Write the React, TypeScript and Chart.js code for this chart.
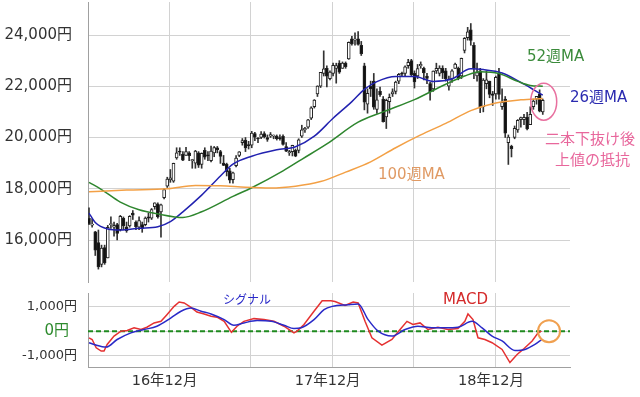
import React, { useEffect, useRef } from "react";
import { Chart, registerables } from "chart.js";

Chart.register(...registerables);

const FONT = "'DejaVu Sans','Noto Sans CJK JP',sans-serif";

// Weekly candles: week 0 = 2016-05-30 ... week 145 = 2019-03-11
const opens = [
  16850, 16580, 16320, 15900, 15050, 15700, 15300, 16600, 16500, 16600,
  16400, 16850, 16500, 16550, 17050, 16700, 16500, 16600, 16600, 16900,
  16850, 17300, 17400, 17100, 17650, 18100, 18350, 18300, 19200, 19450,
  19350, 19300, 19400, 19100, 19000, 19400, 18950, 19500, 19300, 19100,
  19400, 19600, 19450, 19000, 18950, 18700, 18350, 18900, 19300, 19800,
  19900, 19700, 19700, 20150, 19950, 20000, 20150, 20000, 20050, 20050,
  20050, 20000, 20050, 19650, 19400, 19450, 19500, 19500, 20050, 20300,
  20400, 20750, 21200, 21700, 22000, 22500, 22700, 22300, 22500, 22700,
  22900, 22700, 22900, 23070, 23850, 23800, 23850, 23600, 22800, 21300,
  22000, 22200, 21100, 21800, 21500, 20800, 21400, 21700, 21800, 22200,
  22500, 22500, 22800, 23000, 22500, 22400, 22800, 22700, 22400, 22100,
  21900, 22600, 22500, 22700, 22600, 22000, 22300, 22700, 22700, 22400,
  23400, 23900, 24200, 23600, 22400, 22600, 21200, 22100, 22200, 21700,
  21700, 22500, 21200, 21500, 19800, 19655, 20000, 20300, 20700, 20700,
  20800, 20500, 21200, 21500, 21700, 21000,
];
const highs = [
  17251, 16830, 16340, 16390, 15800, 15800, 16570, 16900, 16700, 16650,
  16960, 16900, 16700, 16950, 17150, 16750, 16900, 16700, 16900, 17050,
  17230, 17450, 17450, 17400, 18000, 18450, 18750, 19000, 19600, 19600,
  19450, 19615, 19450, 19150, 19500, 19450, 19400, 19600, 19450, 19670,
  19650, 19650, 19500, 19300, 19000, 18800, 18650, 19290, 19450, 19960,
  20000, 19850, 20240, 20200, 20000, 20230, 20225, 20100, 20195, 20100,
  20100, 20100, 20100, 19800, 19500, 19700, 19550, 19950, 20480, 20400,
  20710, 21200, 21480, 22020, 22540, 23382, 22800, 22600, 22900, 22900,
  23000, 22950, 22950, 23730, 23950, 24084, 24129, 23750, 22900, 21900,
  22200, 22500, 21900, 21970, 21600, 21500, 21700, 21900, 22200, 22500,
  22550, 22800, 23050, 23050, 22600, 22850, 22950, 22750, 22500, 22150,
  22600, 22900, 22800, 22800, 22700, 22400, 22650, 22900, 22750, 23100,
  23900, 24300, 24448, 23700, 22900, 22700, 22300, 22600, 22200, 21800,
  22400, 22700, 21900, 21600, 20100, 19700, 20450, 20700, 20800, 20900,
  20980, 21200, 21500, 21600, 21860, 21500,
];
const lows = [
  16600, 16500, 15395, 14864, 14950, 15050, 15300, 16450, 16150, 16000,
  16350, 16400, 16300, 16500, 16800, 16400, 16400, 16300, 16550, 16700,
  16800, 17200, 16850, 16111, 17600, 18050, 18250, 18250, 19150, 19300,
  19100, 19300, 19100, 18800, 18800, 18830, 18800, 19150, 19100, 19050,
  19250, 19400, 18990, 18900, 18500, 18225, 18220, 18850, 19250, 19700,
  19450, 19550, 19600, 19880, 19800, 19950, 19980, 19850, 20000, 19950,
  19900, 19900, 19700, 19450, 19300, 19280, 19250, 19400, 20000, 20200,
  20350, 20700, 21150, 21600, 21950, 22400, 21972, 22250, 22400, 22120,
  22500, 22700, 22700, 23050, 23600, 23600, 23600, 23200, 21078, 20950,
  21600, 21100, 20937, 21600, 20600, 20350, 20950, 21600, 21700, 22100,
  22400, 22400, 22700, 22400, 21930, 22300, 22700, 22250, 22100, 21460,
  21800, 22500, 22400, 22300, 22200, 21850, 22150, 22700, 22250, 22300,
  23300, 23800, 23600, 22300, 22200, 20971, 21000, 21900, 21550, 21250,
  21500, 21500, 21100, 20000, 18948, 19241, 19950, 20200, 20400, 20500,
  20300, 20500, 21100, 21300, 21000, 20900,
];
const closes = [
  16642, 16601, 15599, 14952, 15682, 15106, 16497, 16627, 16569, 16254,
  16919, 16545, 16360, 16926, 16965, 16519, 16754, 16449, 16860, 16856,
  17184, 17446, 16905, 17374, 17967, 18381, 18426, 18996, 19401, 19427,
  19114, 19454, 19287, 19137, 19467, 18918, 19378, 19234, 19283, 19469,
  19604, 19521, 19262, 18909, 18665, 18335, 18620, 19196, 19445, 19883,
  19590, 19686, 20177, 20013, 19943, 20132, 20033, 19929, 20118, 20099,
  19959, 19952, 19729, 19470, 19452, 19691, 19274, 19909, 20296, 20356,
  20691, 21155, 21457, 22008, 22539, 22681, 22397, 22551, 22819, 22811,
  22553, 22902, 22764, 23714, 23653, 23808, 23631, 23274, 21382, 21720,
  21892, 21181, 21469, 21676, 20617, 21454, 21568, 21778, 22162, 22467,
  22472, 22758, 22930, 22450, 22171, 22694, 22851, 22516, 22304, 21788,
  22597, 22697, 22712, 22525, 22298, 22270, 22601, 22865, 22307, 23094,
  23870, 24120, 23784, 22694, 22532, 21184, 22243, 22250, 21680, 21646,
  22351, 21679, 21375, 20166, 20015, 19561, 20359, 20666, 20773, 20788,
  20333, 20900, 21425, 21602, 21025, 21450,
];

// Moving averages (week index, value)
const ma26Weeks = [0, 2, 6, 10, 16, 22, 26, 30, 36, 42, 46, 52, 60, 66, 72, 78, 84, 88, 92, 98, 104, 110, 116, 122, 126, 132, 138, 142, 145];
const ma26Values = [17050, 16680, 16430, 16390, 16460, 16520, 16720, 17100, 17750, 18500, 18960, 19270, 19520, 19640, 20050, 20750, 21400, 21880, 22180, 22380, 22380, 22190, 22290, 22680, 22650, 22520, 22150, 21870, 21650];
const ma52Weeks = [0, 4, 10, 16, 22, 30, 36, 46, 52, 62, 68, 76, 86, 94, 104, 114, 120, 125, 131, 137, 141, 145];
const ma52Values = [18250, 17970, 17480, 17180, 17020, 16880, 17100, 17700, 18040, 18700, 19150, 19750, 20600, 21000, 21480, 22080, 22400, 22570, 22500, 22190, 22030, 22000];
const ma100Weeks = [0, 12, 25, 34, 42, 50, 58, 66, 74, 82, 90, 98, 106, 114, 122, 130, 138, 145];
const ma100Values = [17880, 17950, 18000, 18130, 18120, 18060, 18030, 18100, 18280, 18650, 19050, 19600, 20100, 20550, 21050, 21350, 21470, 21520];

// MACD panel
const macdWeeks = [0, 1, 2.3, 3.9, 4.8, 5.8, 8, 10.2, 12.2, 14.4, 16.6, 18.5, 20.8, 23, 24.9, 27.2, 28.8, 30.4, 32.6, 34.5, 36.8, 39, 40.9, 43.2, 45.5, 47.3, 49.5, 52.7, 55.9, 59.1, 62.3, 65.5, 66.5, 68.7, 71.9, 74.5, 77.3, 78.6, 81.8, 84.4, 86, 88.2, 90.4, 93.6, 96.8, 99.4, 101.6, 103.5, 105.8, 108.3, 111.5, 114.7, 117.9, 120.1, 121.1, 122.7, 124.3, 126.5, 128.8, 132, 134.5, 136.8, 138.7, 141.6, 143.5, 144.6];
const macdValues = [-270, -340, -680, -810, -810, -540, -200, 0, 25, 135, 65, 160, 335, 400, 670, 1010, 1190, 1150, 970, 780, 700, 610, 570, 400, -50, 200, 400, 510, 470, 400, 200, -70, 0, 270, 810, 1240, 1240, 1210, 1050, 1190, 1150, 400, -270, -570, -340, 65, 400, 270, 335, 65, 160, 65, 105, 400, 700, 470, -270, -340, -470, -745, -1280, -950, -745, -400, -70, 0];
const signalWeeks = [0, 1.6, 5.5, 9, 13.4, 17.6, 21.7, 26.2, 29.4, 32.6, 35.8, 39, 43.2, 46.3, 49.5, 53.7, 58.2, 62.3, 65.5, 67.8, 71.9, 75.1, 77.7, 82.8, 86, 89.2, 92.4, 96.8, 101, 105.1, 109.6, 113.8, 117.9, 122.4, 125.6, 128.8, 132, 136.1, 139.3, 142.5, 144.7];
const signalValues = [-470, -540, -650, -340, -70, 65, 200, 540, 810, 940, 810, 700, 470, 240, 335, 430, 400, 240, 105, 135, 470, 875, 1010, 1080, 1110, 470, 0, -200, 65, 200, 135, 135, 160, 400, 135, -200, -400, -785, -745, -540, -340];

const priceTicks = [16000, 18000, 20000, 22000, 24000];
const macdTicks = [-1000, 0, 1000];
const gridWeeks = [25.6, 51.7, 77.7, 103.8, 129.9];
const xTickLabels = ["16年12月", "", "17年12月", "", "18年12月"];

const GRID = "#d2d2d2";
const AXIS = "#a0a0a0";
const X_MIN = -0.32;
const X_MAX = 153.7;

const pts = (xs: number[], ys: number[]) => xs.map((x, i) => ({ x, y: ys[i] }));
const yen = (v: number) => Number(v).toLocaleString("en-US") + "円";

const noPad = (s: any) => {
  s.paddingTop = 0;
  s.paddingBottom = 0;
  s.paddingLeft = 0;
  s.paddingRight = 0;
};

const mainAnno = {
  id: "mainAnno",
  afterDatasetsDraw(chart: any) {
    const { ctx } = chart;
    const xs = chart.scales.x;
    const ys = chart.scales.y;
    ctx.save();
    ctx.textBaseline = "middle";
    ctx.textAlign = "left";
    ctx.font = `15px ${FONT}`;
    ctx.fillStyle = "#3b8b3b";
    ctx.fillText("52週MA", 527, 57);
    ctx.fillStyle = "#2b2bb0";
    ctx.fillText("26週MA", 570, 98);
    ctx.fillStyle = "#e09a64";
    ctx.fillText("100週MA", 378, 175);
    ctx.fillStyle = "#e8679c";
    ctx.fillText("二本下抜け後", 545, 140);
    ctx.fillText("上値の抵抗", 555, 161);
    ctx.strokeStyle = "#e8709f";
    ctx.lineWidth = 1.5;
    ctx.beginPath();
    ctx.ellipse(xs.getPixelForValue(145.3), ys.getPixelForValue(21400), 13, 18.5, 0, 0, Math.PI * 2);
    ctx.stroke();
    ctx.restore();
  },
};

const macdAnno = {
  id: "macdAnno",
  beforeDatasetsDraw(chart: any) {
    const { ctx, chartArea } = chart;
    const ys = chart.scales.y;
    const y0 = ys.getPixelForValue(0);
    ctx.save();
    ctx.strokeStyle = "#1f8a1f";
    ctx.lineWidth = 2;
    ctx.setLineDash([5, 3]);
    ctx.beginPath();
    ctx.moveTo(chartArea.left, y0);
    ctx.lineTo(chartArea.right, y0);
    ctx.stroke();
    ctx.restore();
  },
  afterDatasetsDraw(chart: any) {
    const { ctx } = chart;
    const xs = chart.scales.x;
    const ys = chart.scales.y;
    const y0 = ys.getPixelForValue(0);
    ctx.save();
    ctx.textBaseline = "middle";
    ctx.font = `15px ${FONT}`;
    ctx.textAlign = "right";
    ctx.fillStyle = "#2e8b2e";
    ctx.fillText("0円", 69, y0);
    ctx.textAlign = "left";
    ctx.fillStyle = "#d42a2a";
    ctx.fillText("MACD", 443, 15);
    ctx.font = `12px ${FONT}`;
    ctx.fillStyle = "#2a2ac8";
    ctx.fillText("シグナル", 223, 16);
    ctx.strokeStyle = "#f0a050";
    ctx.lineWidth = 2;
    ctx.beginPath();
    ctx.arc(xs.getPixelForValue(147), y0, 11, 0, Math.PI * 2);
    ctx.stroke();
    ctx.restore();
  },
};

export default function App() {
  const mainRef = useRef<HTMLCanvasElement>(null);
  const macdRef = useRef<HTMLCanvasElement>(null);

  useEffect(() => {
    const idx = closes.map((_, i) => i);
    const wickData = idx.map((i) => ({ x: i, y: [lows[i], highs[i]] }));
    const bodyData = idx.map((i) => ({ x: i, y: [opens[i], closes[i]] }));
    const bodyColors = idx.map((i) => (closes[i] >= opens[i] ? "#ffffff" : "#111111"));

    const main = new Chart(mainRef.current as HTMLCanvasElement, {
      type: "bar",
      data: {
        datasets: [
          { type: "line", label: "100週MA", data: pts(ma100Weeks, ma100Values), borderColor: "#f3a045", borderWidth: 1.5, pointRadius: 0, cubicInterpolationMode: "monotone", order: 0 } as any,
          { type: "line", label: "52週MA", data: pts(ma52Weeks, ma52Values), borderColor: "#2e862e", borderWidth: 1.5, pointRadius: 0, cubicInterpolationMode: "monotone", order: 0 } as any,
          { type: "line", label: "26週MA", data: pts(ma26Weeks, ma26Values), borderColor: "#2222b0", borderWidth: 1.5, pointRadius: 0, cubicInterpolationMode: "monotone", order: 0 } as any,
          { type: "bar", label: "body", data: bodyData, backgroundColor: bodyColors, borderColor: "#222222", borderWidth: 1, borderSkipped: false, barThickness: 3, minBarLength: 1, grouped: false, order: 1 } as any,
          { type: "bar", label: "wick", data: wickData, backgroundColor: "#333333", barThickness: 1, grouped: false, order: 2 } as any,
        ],
      },
      options: {
        responsive: false,
        animation: false,
        layout: { autoPadding: false, padding: { left: 0, right: 70, top: 2, bottom: 3 } },
        plugins: { legend: { display: false }, tooltip: { enabled: false } },
        scales: {
          x: {
            type: "linear",
            min: X_MIN,
            max: X_MAX,
            offset: false,
            afterBuildTicks: (s: any) => { s.ticks = gridWeeks.map((v) => ({ value: v })); },
            afterFit: (s: any) => { s.height = 0; noPad(s); },
            ticks: { display: false },
            grid: { color: GRID, drawTicks: false, offset: false },
            border: { display: false },
          },
          y: {
            type: "linear",
            min: 14361,
            max: 25288,
            beginAtZero: false,
            afterBuildTicks: (s: any) => { s.ticks = priceTicks.map((v) => ({ value: v })); },
            afterFit: (s: any) => { s.width = 88; noPad(s); },
            ticks: { padding: 16, color: "#333333", font: { size: 15, family: FONT }, callback: (v: any) => yen(v) },
            grid: { color: GRID, drawTicks: false },
            border: { color: AXIS },
          },
        },
      } as any,
      plugins: [mainAnno],
    });

    const macd = new Chart(macdRef.current as HTMLCanvasElement, {
      type: "line",
      data: {
        datasets: [
          { label: "MACD", data: pts(macdWeeks, macdValues), borderColor: "#e53131", borderWidth: 1.5, pointRadius: 0, tension: 0, order: 1 },
          { label: "シグナル", data: pts(signalWeeks, signalValues), borderColor: "#2a2ac8", borderWidth: 1.5, pointRadius: 0, cubicInterpolationMode: "monotone", order: 0 } as any,
        ],
      },
      options: {
        responsive: false,
        animation: false,
        layout: { autoPadding: false, padding: { left: 0, right: 70, top: 8, bottom: 0 } },
        plugins: { legend: { display: false }, tooltip: { enabled: false } },
        scales: {
          x: {
            type: "linear",
            min: X_MIN,
            max: X_MAX,
            afterBuildTicks: (s: any) => { s.ticks = gridWeeks.map((v) => ({ value: v })); },
            afterFit: (s: any) => { s.height = 30; noPad(s); },
            ticks: {
              autoSkip: false,
              maxRotation: 0,
              padding: 6,
              labelOffset: -4.5,
              color: "#333333",
              font: { size: 14.5, family: FONT },
              callback: (v: any) => {
                const k = gridWeeks.indexOf(Number(v));
                return k >= 0 ? xTickLabels[k] : "";
              },
            },
            grid: { color: GRID, drawTicks: false },
            border: { color: AXIS },
          },
          y: {
            type: "linear",
            min: -1460,
            max: 1554,
            afterBuildTicks: (s: any) => { s.ticks = macdTicks.map((v) => ({ value: v })); },
            afterFit: (s: any) => { s.width = 88; noPad(s); },
            ticks: { padding: 11, color: "#333333", font: { size: 13, family: FONT }, callback: (v: any) => (Number(v) === 0 ? "" : yen(v)) },
            grid: { color: GRID, drawTicks: false },
            border: { color: AXIS },
          },
        },
      } as any,
      plugins: [macdAnno],
    });

    return () => {
      main.destroy();
      macd.destroy();
    };
  }, []);

  return (
    <div style={{ position: "fixed", left: 0, top: 0, width: 640, height: 397, background: "#ffffff", overflow: "hidden" }}>
      <canvas ref={mainRef} width={640} height={285} style={{ position: "absolute", left: 0, top: 0, display: "block" }} />
      <canvas ref={macdRef} width={640} height={112} style={{ position: "absolute", left: 0, top: 285, display: "block" }} />
    </div>
  );
}
